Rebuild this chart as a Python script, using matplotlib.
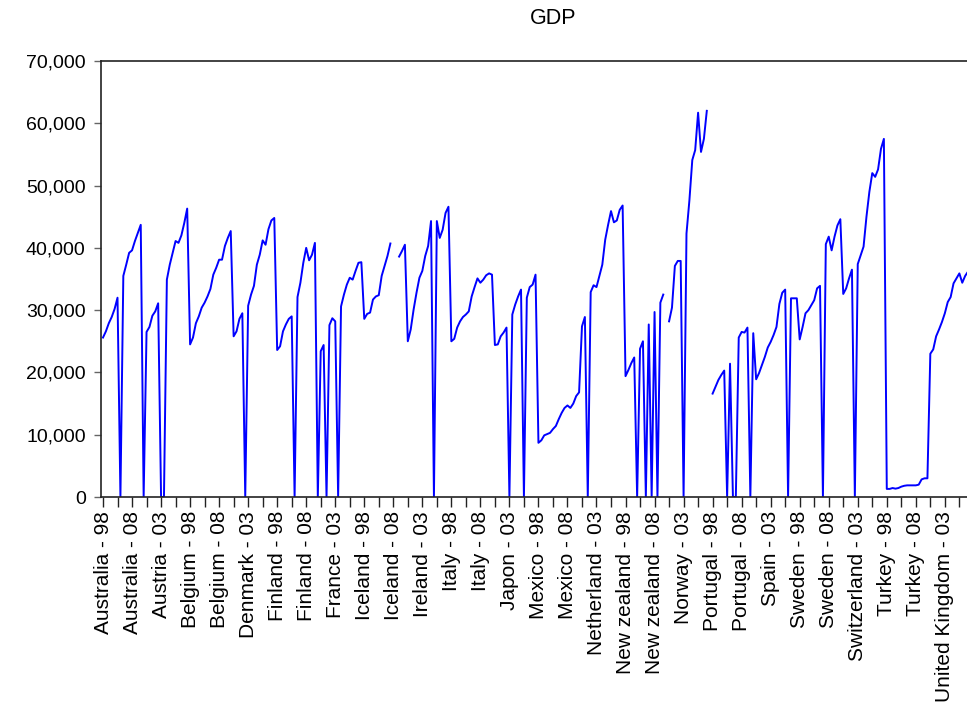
import numpy as np
import matplotlib
matplotlib.use("Agg")
import matplotlib.pyplot as plt
from matplotlib.ticker import FuncFormatter, MultipleLocator

plt.rcParams['font.family'] = ['Liberation Sans', 'DejaVu Sans']

nan = np.nan

# panel: 20 countries, 1998-2012 (values in thousands)
countries = ["Australia", "Austria", "Belgium", "Denmark", "Finland", "France",
             "Iceland", "Ireland", "Italy", "Japon", "Mexico", "Netherland",
             "New zealand", "Norway", "Portugal", "Spain", "Sweden",
             "Switzerland", "Turkey", "United Kingdom"]
years = list(range(1998, 2013))

australia = [25.6, 26.6, 27.9, 28.9, 30.2, 32.0, 0, 35.5, 37.3, 39.2, 39.6, 41.1, 42.4, 43.7, 0]
austria = [26.5, 27.3, 29.1, 29.8, 31.1, 0, 0, 34.9, 37.3, 39.2, 41.1, 40.8, 42.0, 44.0, 46.3]
belgium = [24.5, 25.6, 27.9, 29.0, 30.4, 31.2, 32.2, 33.4, 35.7, 36.8, 38.1, 38.1, 40.3, 41.6, 42.7]
denmark = [25.8, 26.6, 28.6, 29.5, 0, 30.7, 32.5, 33.9, 37.3, 38.9, 41.2, 40.5, 43.0, 44.4, 44.8]
finland = [23.6, 24.2, 26.6, 27.7, 28.6, 29.0, 0, 32.1, 34.4, 37.6, 40.0, 38.0, 38.9, 40.8, 0]
france = [23.4, 24.4, 0, 27.6, 28.7, 28.2, 0, 30.6, 32.5, 34.1, 35.2, 34.9, 36.3, 37.6, 37.7]
iceland = [28.6, 29.4, 29.6, 31.7, 32.2, 32.4, 35.5, 37.1, 38.7, 40.7, nan, nan, 38.6, 39.5, 40.5]
ireland = [25.0, 26.9, 30.1, 32.8, 35.2, 36.3, 38.7, 40.3, 44.3, 0, 44.3, 41.6, 42.9, 45.6, 46.6]
italy = [25.0, 25.4, 27.2, 28.2, 28.9, 29.3, 29.8, 32.2, 33.7, 35.1, 34.4, 34.9, 35.6, 35.9, 35.7]
japon = [24.4, 24.5, 25.8, 26.4, 27.2, 0, 29.3, 30.9, 32.2, 33.3, 0, 32.0, 33.7, 34.1, 35.7]
mexico = [8.7, 9.1, 9.9, 10.1, 10.3, 10.9, 11.4, 12.5, 13.5, 14.3, 14.7, 14.3, 15.0, 16.2, 16.8]
netherland = [27.4, 28.9, 0, 32.9, 34.0, 33.7, 35.5, 37.3, 41.3, 43.7, 45.9, 44.1, 44.4, 46.1, 46.8]
new_zealand = [19.4, 20.4, 21.5, 22.4, 0, 23.8, 25.0, 0, 27.7, 0, 29.7, 0, 31.2, 32.5, nan]
norway = [28.2, 30.4, 37.1, 37.9, 37.9, 0, 42.3, 47.6, 54.1, 55.7, 61.7, 55.4, 57.5, 62.0, nan]
portugal = [16.6, 17.7, 18.8, 19.6, 20.3, 0, 21.4, 0, 0, 25.6, 26.5, 26.4, 27.2, 0, 26.3]
spain = [18.9, 19.9, 21.2, 22.5, 24.0, 24.9, 26.0, 27.3, 31.0, 32.8, 33.3, 0, 31.9, 31.9, 31.9]
sweden = [25.3, 27.3, 29.5, 30.0, 30.8, 31.6, 33.5, 33.9, 0, 40.6, 41.8, 39.6, 41.8, 43.6, 44.6]
switzerland = [32.6, 33.5, 35.1, 36.5, 0, 37.4, 38.8, 40.2, 45.0, 49.0, 52.0, 51.4, 52.6, 55.9, 57.5]
turkey = [1.3, 1.3, 1.44, 1.34, 1.44, 1.66, 1.8, 1.87, 1.87, 1.87, 1.87, 1.98, 2.83, 3.0, 3.0]
united_kingdom = [23.0, 23.7, 25.8, 26.9, 28.1, 29.5, 31.3, 32.1, 34.3, 35.1, 35.9, 34.4, 35.5, 36.2, 36.8]

series = [australia, austria, belgium, denmark, finland, france, iceland, ireland,
          italy, japon, mexico, netherland, new_zealand, norway, portugal, spain,
          sweden, switzerland, turkey, united_kingdom]

gdp = np.concatenate([np.array(s, dtype=float) for s in series]) * 1000
obs = np.arange(len(gdp))

# tick labels like "Australia - 98" every 10 observations
label_pos = obs[::10]
labels = [f"{countries[i // len(years)]} - {years[i % len(years)] % 100:02d}" for i in label_pos]

fig = plt.figure(figsize=(9.67, 7.04), dpi=100)
ax = fig.add_axes([101 / 967, (704 - 497) / 704, 872 / 967, 436 / 704])

ax.plot(obs, gdp, color='#0000ff', linewidth=1.4)

ax.set_xlim(-0.69, 299.7)
ax.set_ylim(0, 70000)

ax.set_yticks(np.arange(0, 70001, 10000))
ax.yaxis.set_major_formatter(FuncFormatter(lambda v, p: f"{int(v):,}"))
ax.set_xticks(label_pos)
ax.set_xticklabels(labels, rotation=90)
ax.xaxis.set_minor_locator(MultipleLocator(5))

ax.tick_params(axis='y', direction='out', length=5, width=1, color='#666666',
               labelsize=14, pad=6)
ax.tick_params(axis='x', which='both', direction='out', length=7, width=1,
               color='#222222', labelsize=15, pad=3)

for s in ax.spines.values():
    s.set_color('#222222')
    s.set_linewidth(1.2)

# title centred over the full (cropped) chart frame
fig.text(553 / 967, 1 - 18 / 704, "GDP", ha='center', va='center', fontsize=15.5)

fig.savefig("out.png", dpi=100)
